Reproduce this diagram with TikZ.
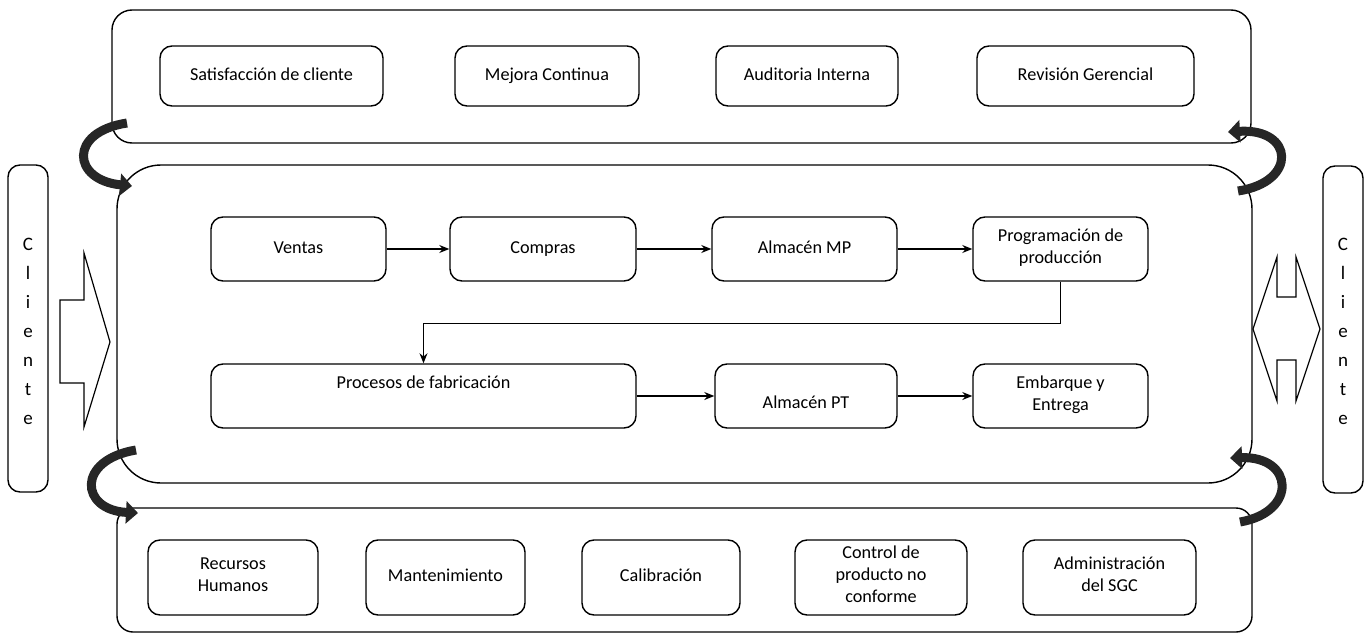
\documentclass[tikz,border=0pt]{standalone}
\usepackage{fontspec}
\setmainfont{Carlito}
\usetikzlibrary{arrows.meta}

\tikzset{
  caja/.style={draw, rounded corners=6pt, line width=0.7pt, align=center,
    inner sep=0pt, font=\fontsize{9.1}{11}\selectfont,
    execute at begin node=\strut, execute at end node=\strut},
  marco/.style={draw, line width=0.7pt},
  flujo/.style={-{Stealth[length=5pt,width=4pt]}, line width=0.6pt},
  giro/.style={line width=4.5pt, draw=black!85,
    -{Triangle[length=6pt,width=11pt]}},
  flecha/.style={draw, line width=0.6pt, line join=miter},
}

\begin{document}
\begin{tikzpicture}[x=0.5pt,y=-0.5pt]
    \useasboundingbox (0,0) rectangle (1367,637);

    % Marcos
    \draw[marco, rounded corners=10pt] (112,10) rectangle (1251,143);
    \draw[marco, rounded corners=22pt] (117,165) rectangle (1252,483);
    \draw[marco, rounded corners=8pt] (117,508) rectangle (1252,632);

    % Cliente
    \draw[marco, rounded corners=6pt] (8,165) rectangle (48,492);
    \draw[marco, rounded corners=6pt] (1323,166) rectangle (1363,493);
    \node[font=\fontsize{9.5}{14.5}\selectfont, align=center] (clienteA) at (28,331)
        {C\\l\\i\\e\\n\\t\\e};
    \node[font=\fontsize{9.5}{14.5}\selectfont, align=center] (clienteB) at (1343,331)
        {C\\l\\i\\e\\n\\t\\e};

    % Flechas de bloque
    \draw[flecha] (60,300) -- (84,300) -- (84,253) -- (110,342) -- (84,427)
        -- (84,383) -- (60,383) -- cycle;
    \draw[flecha] (1277,257) -- (1277,297) -- (1296,297) -- (1296,257)
        -- (1320,329) -- (1296,401) -- (1296,360) -- (1277,360)
        -- (1277,401) -- (1253,329) -- cycle;

    % Procesos de direccion
    \node[caja, minimum width=111.5pt, minimum height=30pt] (satis) at (271.5,76) {Satisfacción de cliente};
    \node[caja, minimum width=92pt, minimum height=30pt] (mejora) at (547,76) {Mejora Continua};
    \node[caja, minimum width=91pt, minimum height=30pt] (audit) at (807,76) {Auditoria Interna};
    \node[caja, minimum width=108.5pt, minimum height=30pt] (revis) at (1085.5,76) {Revisión Gerencial};

    % Procesos operativos
    \node[caja, minimum width=87.5pt, minimum height=32pt] (ventas) at (298.5,249) {Ventas};
    \node[caja, minimum width=93pt, minimum height=32pt] (compras) at (543,249) {Compras};
    \node[caja, minimum width=92.5pt, minimum height=32pt] (almmp) at (804.5,249) {Almacén MP};
    \node[caja, minimum width=87.5pt, minimum height=32pt] (progr) at (1060.5,249) {Programación de\\producción};
    \node[caja, minimum width=212.5pt, minimum height=32pt] (fabric) at (423.5,396) {Procesos de fabricación\\};
    \node[caja, minimum width=91pt, minimum height=32pt] (almpt) at (806,396) {\raisebox{-4pt}[0pt][0pt]{Almacén PT}};
    \node[caja, minimum width=87.5pt, minimum height=32pt] (embarq) at (1060.5,396) {Embarque y\\Entrega};

    \draw[flujo] (ventas) -- (compras);
    \draw[flujo] (compras) -- (almmp);
    \draw[flujo] (almmp) -- (progr);
    \draw[flujo] (progr.south) -- ++(0,42) -| (fabric.north);
    \draw[flujo] (fabric) -- (almpt);
    \draw[flujo] (almpt) -- (embarq);

    % Procesos de soporte
    \node[caja, minimum width=85pt, minimum height=37.5pt] (rrhh) at (233,577.5) {Recursos\\Humanos};
    \node[caja, minimum width=79.5pt, minimum height=37.5pt] (mante) at (445.5,577.5) {Mantenimiento};
    \node[caja, minimum width=79pt, minimum height=37.5pt] (calib) at (661,577.5) {Calibración};
    \node[caja, minimum width=86pt, minimum height=37.5pt] (pnc) at (881,577.5) {Control de\\producto no\\conforme};
    \node[caja, minimum width=86.5pt, minimum height=37.5pt] (sgc) at (1109.5,577.5) {Administración\\del SGC};

    % Flechas curvas
    \draw[giro] (127,123) .. controls (68,132) and (72,180) .. (132,186);
    \draw[giro] (1238,191) .. controls (1298,182) and (1294,128) .. (1228,132);
    \draw[giro] (136,450) .. controls (76,460) and (80,510) .. (138,513);
    \draw[giro] (1240,522) .. controls (1298,512) and (1294,456) .. (1230,458);
\end{tikzpicture}
\end{document}
